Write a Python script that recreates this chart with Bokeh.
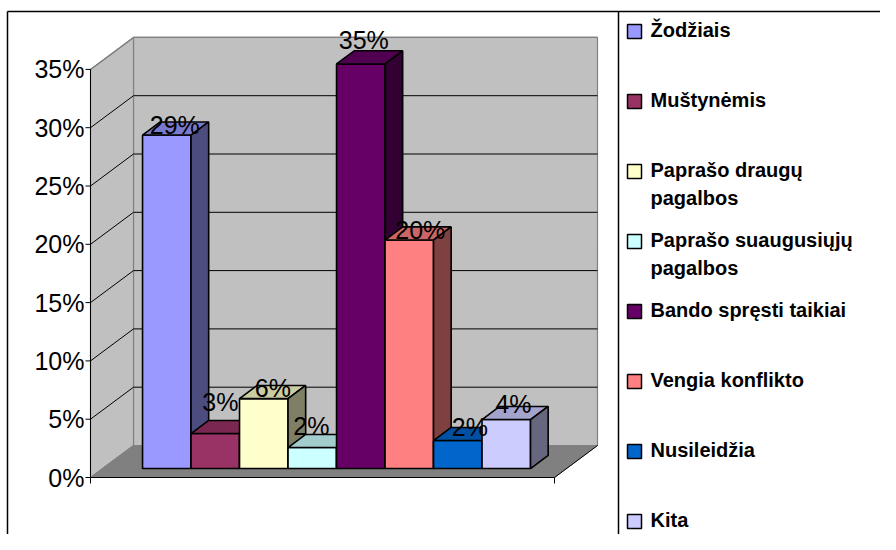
from bokeh.plotting import figure
from bokeh.models import ColumnDataSource, Range1d
from bokeh.core.properties import value
from bokeh.embed import file_html
from bokeh.resources import INLINE

# ---------------- data ----------------
CATEGORIES = ["Žodžiais", "Muštynėmis", "Paprašo draugų pagalbos",
              "Paprašo suaugusiųjų pagalbos", "Bando spręsti taikiai",
              " Vengia konflikto", "Nusileidžia", "Kita"]
LEGEND_LINES = [["Žodžiais"], ["Muštynėmis"], ["Paprašo draugų", "pagalbos"],
                ["Paprašo suaugusiųjų", "pagalbos"], ["Bando spręsti taikiai"],
                [" Vengia konflikto"], ["Nusileidžia"], ["Kita"]]
SHARES = [0.286, 0.030, 0.060, 0.018, 0.347, 0.196, 0.024, 0.042]
TICKS = [0.0, 0.05, 0.10, 0.15, 0.20, 0.25, 0.30, 0.35]
TICK_LABELS = ["0%", "5%", "10%", "15%", "20%", "25%", "30%", "35%"]
COLORS = ["#9999FF", "#993366", "#FFFFCC", "#CCFFFF",
          "#660066", "#FF8080", "#0066CC", "#CCCCFF"]

# ---------------- layout (pixels, figure coordinates) ----------------
FIG_W, FIG_H = 880, 534
FRONT_X0_PX = 130.0      # x of category 0 on the front plane
PX_PER_CAT = 48.5
FRONT_Y0_PX = 477.0      # y of 0 on the front plane
PX_PER_UNIT = 1166.0     # pixels per 100 %
WALL_DX_PX, WALL_DY_PX = 43.0, 32.0
BAR_D0, BAR_D1 = 0.28, 0.69
FLOOR_L_PX, FLOOR_R_PX = 90.0, 554.0
LABEL_DX_PX = [8, 5, 9, -1, 3, 11, 12, 7]
LABEL_GAP_PX = [1, 23, 2, 13, 15, 1, 5, 7]
LABEL_HALF_CAP = 9.0
LEG_HALF_CAP = 7.0


def ux(px):
    return (px - FRONT_X0_PX) / PX_PER_CAT


def vy(py):
    return (FRONT_Y0_PX - py) / PX_PER_UNIT


DU = WALL_DX_PX / PX_PER_CAT
DV = WALL_DY_PX / PX_PER_UNIT
U0, U1 = ux(FLOOR_L_PX), ux(FLOOR_R_PX)
VTOP = TICKS[-1]


def P(u, v, d):
    return u + d * DU, v + d * DV


def quad(pts):
    xs, ys = zip(*[P(*q) for q in pts])
    return list(xs), list(ys)


def shade(hx, f):
    r, g, b = int(hx[1:3], 16), int(hx[3:5], 16), int(hx[5:7], 16)
    return "#%02x%02x%02x" % (int(r * f), int(g * f), int(b * f))


p = figure(width=FIG_W, height=FIG_H,
           x_range=Range1d(ux(0), ux(FIG_W)),
           y_range=Range1d(vy(FIG_H), vy(0)),
           output_backend="svg", toolbar_location=None,
           x_axis_type=None, y_axis_type=None, min_border=0, title=None)
p.outline_line_color = None
p.background_fill_color = "white"
p.border_fill_color = "white"

# walls and floor
wx, wy = [], []
for pts in ([(U0, 0, 1), (U1, 0, 1), (U1, VTOP, 1), (U0, VTOP, 1)],
            [(U0, 0, 0), (U0, VTOP, 0), (U0, VTOP, 1), (U0, 0, 1)]):
    a, b = quad(pts)
    wx.append(a)
    wy.append(b)
p.patches(wx, wy, fill_color="#C0C0C0", line_color="#808080", line_width=1.2)
fx, fy = quad([(U0, 0, 0), (U1, 0, 0), (U1, 0, 1), (U0, 0, 1)])
p.patch(fx, fy, fill_color="#808080", line_color="#808080", line_width=1)

# gridlines (side wall + back wall)
gx, gy = [], []
for t in TICKS[1:-1]:
    a, b = quad([(U0, t, 0), (U0, t, 1), (U1, t, 1)])
    gx.append(a)
    gy.append(b)
p.multi_line(gx, gy, line_color="black", line_width=1)
a, b = quad([(U0, VTOP, 0), (U0, VTOP, 1), (U1, VTOP, 1)])
p.line(a, b, line_color="#808080", line_width=1.2)

# axis lines and ticks
tick_len = 5.0 / PX_PER_CAT
sx, sy = [], []
for t in TICKS:
    sx.append([U0 - tick_len, U0])
    sy.append([t, t])
a, b = quad([(U0, VTOP, 0), (U0, 0, 0), (U1, 0, 0), (U1, 0, 1)])
sx.append(a)
sy.append(b)
for u in (U0, U1):
    sx.append([u, u])
    sy.append([0, -6.0 / PX_PER_UNIT])
p.multi_line(sx, sy, line_color="black", line_width=1)

p.text(x=[U0 - 6.0 / PX_PER_CAT] * len(TICKS), y=TICKS, text=TICK_LABELS,
       text_font=value("Liberation Sans"), text_font_size="25px",
       text_align="right", text_baseline="middle", text_color="black")

# bars
bx, by, bc = [], [], []
for i, (val, col) in enumerate(zip(SHARES, COLORS)):
    faces = [
        ([(i, 0, BAR_D0), (i + 1, 0, BAR_D0), (i + 1, val, BAR_D0), (i, val, BAR_D0)], col),
        ([(i, val, BAR_D0), (i + 1, val, BAR_D0), (i + 1, val, BAR_D1), (i, val, BAR_D1)], shade(col, 0.8)),
        ([(i + 1, 0, BAR_D0), (i + 1, val, BAR_D0), (i + 1, val, BAR_D1), (i + 1, 0, BAR_D1)], shade(col, 0.5)),
    ]
    for pts, c in faces:
        a, b = quad(pts)
        bx.append(a)
        by.append(b)
        bc.append(c)
p.patches(xs="xs", ys="ys", fill_color="color", line_color="black", line_width=1.6,
          source=ColumnDataSource(dict(xs=bx, ys=by, color=bc)))

# data labels
lx = [i + 0.5 + BAR_D0 * DU + LABEL_DX_PX[i] / PX_PER_CAT for i in range(len(SHARES))]
ly = [v + BAR_D0 * DV + (LABEL_GAP_PX[i] + LABEL_HALF_CAP) / PX_PER_UNIT
      for i, v in enumerate(SHARES)]
lt = ["%d%%" % round(v * 100) for v in SHARES]
p.text(x=lx, y=ly, text=lt, text_font=value("Liberation Sans"), text_font_size="25px",
       text_align="center", text_baseline="middle", text_color="black")

# frame lines
fx_lines = [[ux(7), ux(FIG_W)], [ux(7), ux(7)], [ux(618), ux(618)]]
fy_lines = [[vy(11), vy(11)], [vy(11), vy(FIG_H)], [vy(11), vy(FIG_H)]]
p.multi_line(fx_lines, fy_lines, line_color="black", line_width=1.5)

# legend
LEG_BASE0, LEG_STEP, LEG_LINE = 36.0, 70.0, 28.0
mx, my, tx, ty, tt = [], [], [], [], []
for k, lines in enumerate(LEGEND_LINES):
    base = LEG_BASE0 + LEG_STEP * k
    mx.append(ux(634))
    my.append(vy(base - 5))
    for j, line in enumerate(lines):
        tx.append(ux(650))
        ty.append(vy(base + j * LEG_LINE - LEG_HALF_CAP))
        tt.append(line)
p.scatter(mx, my, marker="square", size=14, fill_color=COLORS, line_color="black", line_width=1.5)
p.text(x=tx, y=ty, text=tt, text_font=value("Liberation Sans"), text_font_size="20px",
       text_font_style="bold", text_align="left", text_baseline="middle", text_color="black")

open("out.html", "w").write(file_html(p, INLINE))
